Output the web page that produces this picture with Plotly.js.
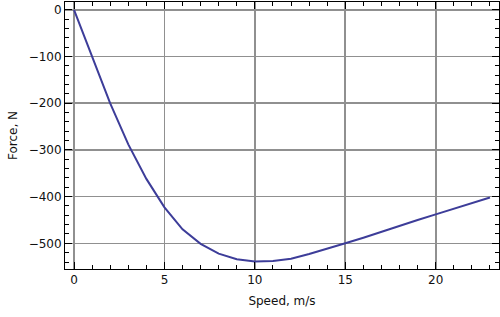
<!DOCTYPE html>
<html>
<head>
<meta charset="utf-8">
<script src="https://cdn.plot.ly/plotly-3.0.1.min.js"></script>
<style>html,body{margin:0;padding:0;background:#fff;}#chart{width:500px;height:317px;}</style>
</head>
<body>
<div id="chart"></div>
<script>
var speed = [0,1,2,3,4,5,6,7,8,9,10,11,12,13,14,15,16,17,18,19,20,21,22,23];
var force = [0,-102,-200,-288,-362,-423,-470,-501,-522,-534,-539,-538,-533,-523,-512,-500,-488,-475,-462,-450,-438,-426,-414,-402];
var xTicks = [0,5,10,15,20];
var yTicks = [0,-100,-200,-300,-400,-500];
var yTickText = ['0','\u2212100','\u2212200','\u2212300','\u2212400','\u2212500'];

var trace = {
  x: speed, y: force, type: 'scatter', mode: 'lines',
  line: {color: '#3d3d99', width: 2}, hoverinfo: 'none'
};
var font = {family: 'DejaVu Sans, sans-serif', size: 12, color: '#111'};
var layout = {
  width: 500, height: 317,
  margin: {l: 65, r: 1, t: 2, b: 48},
  paper_bgcolor: '#fff', plot_bgcolor: '#fff',
  showlegend: false,
  font: font,
  xaxis: {
    range: [-0.5, 23.5],
    tickvals: xTicks,
    ticks: 'inside', ticklen: 7, tickwidth: 1, tickcolor: '#000',
    minor: {dtick: 1, ticks: 'inside', ticklen: 4, tickwidth: 1, tickcolor: '#000', showgrid: false},
    showline: true, linecolor: '#000', linewidth: 1, mirror: 'allticks',
    showgrid: true, gridcolor: '#909090', gridwidth: 1.6,
    zeroline: false,
    title: {text: 'Speed, m/s', font: font, standoff: 10},
    tickfont: font
  },
  yaxis: {
    range: [-555, 17],
    tickvals: yTicks, ticktext: yTickText,
    ticks: 'inside', ticklen: 7, tickwidth: 1, tickcolor: '#000',
    minor: {dtick: 20, tick0: 0, ticks: 'inside', ticklen: 4, tickwidth: 1, tickcolor: '#000', showgrid: false},
    showline: true, linecolor: '#000', linewidth: 1, mirror: 'allticks',
    showgrid: true, gridcolor: '#909090', gridwidth: 1.6,
    zeroline: false,
    title: {text: 'Force, N', font: font, standoff: 8},
    tickfont: font
  }
};
Plotly.newPlot('chart', [trace], layout, {staticPlot: true, displayModeBar: false});
</script>
</body>
</html>
